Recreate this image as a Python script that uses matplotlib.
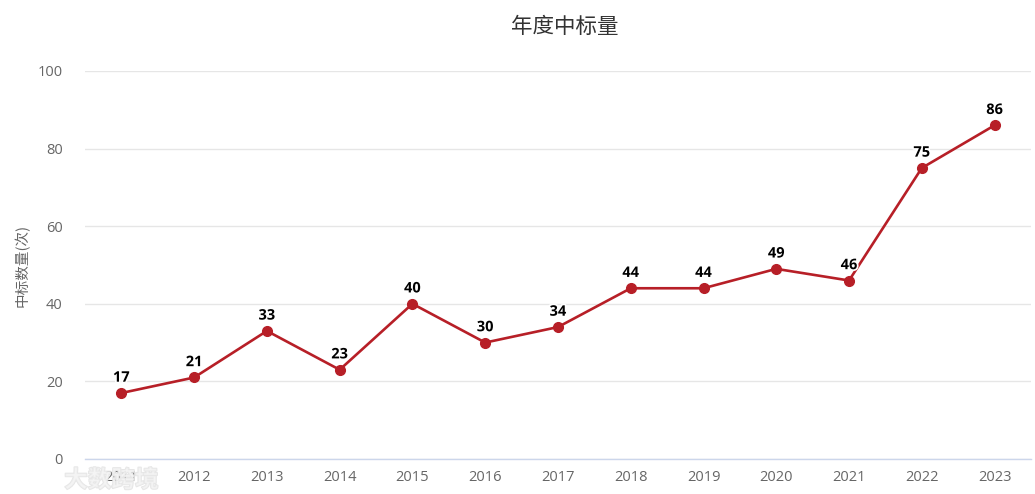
import matplotlib
matplotlib.use("Agg")
import matplotlib.pyplot as plt
import matplotlib.patheffects as pe

plt.rcParams['font.family'] = ['Open Sans', 'Noto Sans CJK SC', 'DejaVu Sans']

# data
years = ['2011', '2012', '2013', '2014', '2015', '2016', '2017',
         '2018', '2019', '2020', '2021', '2022', '2023']
counts = [17, 21, 33, 23, 40, 30, 34, 44, 44, 49, 46, 75, 86]
y_ticks = [0, 20, 40, 60, 80, 100]

line_color = '#b71f27'

fig = plt.figure(figsize=(10.35, 4.94), dpi=100)
ax = fig.add_axes([0.0821, 0.0709, 0.9140, 0.7854])

x = list(range(len(years)))
ax.plot(x, counts, color=line_color, linewidth=1.9, marker='o',
        markersize=7, zorder=3)

for xi, v in zip(x, counts):
    ax.annotate(str(v), (xi, v), xytext=(0, 6), textcoords='offset points',
                ha='center', va='bottom', fontsize=10.5, fontweight='bold',
                color='black',
                path_effects=[pe.withStroke(linewidth=2.5, foreground='white')])

ax.set_xlim(-0.5, len(years) - 0.5)
ax.set_ylim(0, 100)
ax.set_xticks(x)
ax.set_xticklabels(years)
ax.set_yticks(y_ticks)
ax.tick_params(axis='both', length=0, labelsize=10.5, colors='#666666')
ax.tick_params(axis='x', pad=8)
ax.tick_params(axis='y', pad=16)

ax.grid(axis='y', color='#e6e6e6', linewidth=1)
ax.set_axisbelow(True)
for s in ['top', 'right', 'left']:
    ax.spines[s].set_visible(False)
ax.spines['bottom'].set_color('#ccd6eb')
ax.spines['bottom'].set_linewidth(1)

ax.set_ylabel('中标数量(次)', fontsize=10.5, color='#666666', labelpad=6,
              family=['Noto Sans CJK SC', 'DejaVu Sans'])
fig.text(0.546, 0.945, '年度中标量', ha='center', va='center', fontsize=15.5,
         color='#333333', family=['Noto Sans CJK SC', 'DejaVu Sans'])

# watermark
fig.text(0.062, 0.028, '大数跨境', ha='left', va='center', fontsize=17,
         fontweight='bold', color='#f4f4f4', alpha=0.7,
         family=['Noto Sans CJK SC', 'DejaVu Sans'],
         path_effects=[pe.withStroke(linewidth=1.2, foreground='#dcdcdc')])

fig.savefig('out.png', dpi=100)
